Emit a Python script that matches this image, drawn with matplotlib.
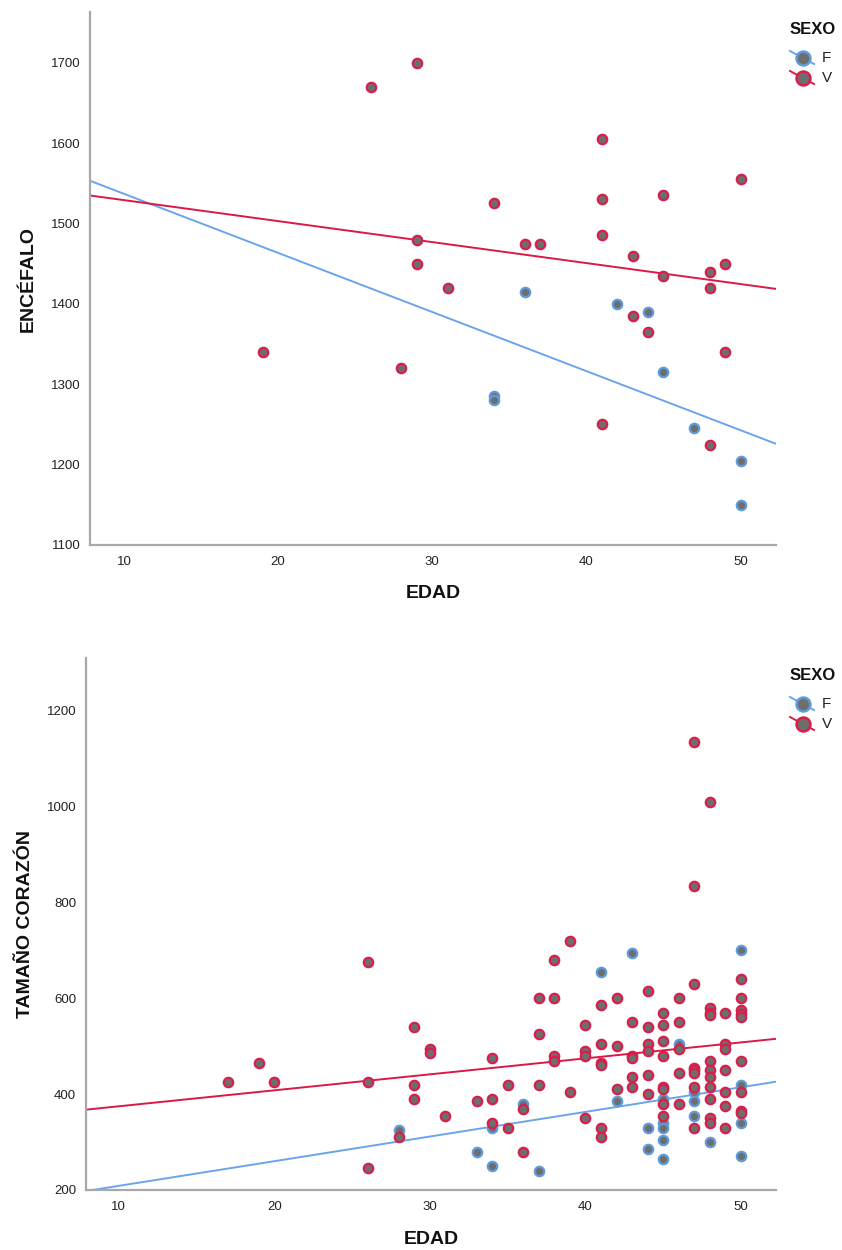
import numpy as np
import matplotlib
matplotlib.use("Agg")
import matplotlib.pyplot as plt
from matplotlib.lines import Line2D

plt.rcParams["font.family"] = ["Liberation Sans", "DejaVu Sans"]

# ---------------- data: ENCEFALO vs EDAD ----------------
enc_age_f = [34, 34, 36, 42, 44, 45, 47, 50, 50]
enc_val_f = [1285, 1280, 1415, 1400, 1390, 1315, 1245, 1205, 1150]

enc_age_v = [19, 26, 28, 29, 29, 29, 31, 34, 36, 37, 41, 41, 41, 41,
             43, 43, 44, 45, 45, 48, 48, 48, 49, 49, 50]
enc_val_v = [1340, 1670, 1320, 1700, 1480, 1450, 1420, 1525, 1475, 1475,
             1605, 1530, 1485, 1250, 1460, 1385, 1365, 1535, 1435,
             1440, 1420, 1225, 1450, 1340, 1555]

# ---------------- data: TAMANO CORAZON vs EDAD ----------------
cor_age_f = [28, 33, 34, 34, 36, 37, 41, 42, 43, 44, 44, 45, 45, 45, 45, 45,
             46, 47, 47, 47, 48, 50, 50, 50, 50]
cor_val_f = [325, 280, 330, 250, 380, 240, 655, 385, 695, 330, 285, 390, 340,
             330, 305, 265, 505, 405, 385, 355, 300, 700, 420, 340, 270]

cor_age_v = [17, 19, 20, 26, 26, 26, 28, 29, 29, 29, 30, 30, 31, 33,
             34, 34, 34, 35, 35, 36, 36, 37, 37, 37, 38, 38, 38, 38,
             39, 39, 40, 40, 40, 40, 41, 41, 41, 41, 41, 41,
             42, 42, 42, 43, 43, 43, 43, 43,
             44, 44, 44, 44, 44, 44,
             45, 45, 45, 45, 45, 45, 45, 45,
             46, 46, 46, 46, 46,
             47, 47, 47, 47, 47, 47, 47, 47,
             48, 48, 48, 48, 48, 48, 48, 48, 48, 48, 48,
             49, 49, 49, 49, 49, 49, 49,
             50, 50, 50, 50, 50, 50, 50, 50, 50]
cor_val_v = [425, 465, 425, 675, 425, 245, 310, 540, 420, 390, 495, 485, 355, 385,
             475, 390, 340, 420, 330, 370, 280, 600, 525, 420, 680, 600, 480, 470,
             720, 405, 545, 490, 480, 350, 585, 505, 465, 460, 330, 310,
             600, 500, 410, 550, 480, 475, 435, 415,
             615, 540, 505, 490, 440, 400,
             570, 545, 510, 480, 415, 410, 380, 355,
             600, 550, 495, 445, 380,
             1135, 835, 630, 455, 450, 445, 415, 330,
             1010, 580, 570, 565, 470, 450, 435, 415, 390, 350, 340,
             570, 505, 495, 450, 405, 375, 330,
             640, 600, 575, 567, 560, 470, 405, 365, 360]

sexes = ["F", "V"]
edge_col = {"F": "#5F9BDC", "V": "#D81E4B"}
line_col = {"F": "#6AA5EC", "V": "#DC1845"}
face_col = "#6E6E6E"
spine_col = "#A8A8A8"

fig = plt.figure(figsize=(8.42, 12.5), dpi=100)
W, H = 842.0, 1250.0


def make_axes(left, top, right, bottom):
    return fig.add_axes([left / W, 1 - bottom / H, (right - left) / W, (bottom - top) / H])


def draw_panel(ax, groups, xlim, ylim, yticks, ylabel):
    for sex, (ages, vals) in zip(sexes, groups):
        ages = np.array(ages, dtype=float)
        vals = np.array(vals, dtype=float)
        ax.scatter(ages, vals, s=46, facecolor=face_col, edgecolor=edge_col[sex],
                   linewidth=1.6, zorder=3)
        # linear fit per group, drawn across the whole axis
        b, a = np.polyfit(ages, vals, 1)
        xs = np.array(xlim)
        ax.plot(xs, a + b * xs, color=line_col[sex], lw=1.4, zorder=2)
    ax.set_xlim(*xlim)
    ax.set_ylim(*ylim)
    ax.set_xticks([10, 20, 30, 40, 50])
    ax.set_yticks(yticks)
    for s in ["top", "right"]:
        ax.spines[s].set_visible(False)
    for s in ["left", "bottom"]:
        ax.spines[s].set_color(spine_col)
        ax.spines[s].set_linewidth(1.6)
    ax.tick_params(length=0, labelsize=9.5, colors="#222222")
    ax.tick_params(axis="y", pad=7)
    ax.tick_params(axis="x", pad=8)
    ax.set_xlabel("EDAD", fontsize=14, fontweight="bold", color="#111111")
    ax.set_ylabel(ylabel, fontsize=14, fontweight="bold", color="#111111")


def draw_legend(top_px):
    fig.text(790 / W, 1 - top_px / H, "SEXO", fontsize=12, fontweight="bold",
             ha="left", va="center", color="#111111")
    for i, sex in enumerate(sexes):
        yc = top_px + 28 + i * 20
        fig.add_artist(Line2D([790 / W, 814 / W], [1 - (yc - 7) / H, 1 - (yc + 6) / H],
                              transform=fig.transFigure, color=line_col[sex], lw=1.4))
        fig.add_artist(Line2D([803 / W], [1 - yc / H], transform=fig.transFigure,
                              marker="o", markersize=10, markerfacecolor=face_col,
                              markeredgecolor=edge_col[sex], markeredgewidth=1.8,
                              linestyle="none"))
        fig.text(822 / W, 1 - yc / H, sex, fontsize=11, ha="left", va="center",
                 color="#222222")


ax1 = make_axes(90, 12, 776, 545)
draw_panel(ax1, [(enc_age_f, enc_val_f), (enc_age_v, enc_val_v)],
           (7.8, 52.3), (1100, 1763), list(range(1100, 1701, 100)), "ENCÉFALO")
ax1.xaxis.set_label_coords(0.5, -0.075)
ax1.yaxis.set_label_coords(-0.077, 0.5)
draw_legend(30)

ax2 = make_axes(86, 658, 776, 1190)
draw_panel(ax2, [(cor_age_f, cor_val_f), (cor_age_v, cor_val_v)],
           (7.9, 52.25), (200, 1310), list(range(200, 1201, 200)), "TAMAÑO CORAZÓN")
ax2.xaxis.set_label_coords(0.5, -0.077)
ax2.yaxis.set_label_coords(-0.076, 0.5)
draw_legend(676)

fig.savefig("out.png", dpi=100)
